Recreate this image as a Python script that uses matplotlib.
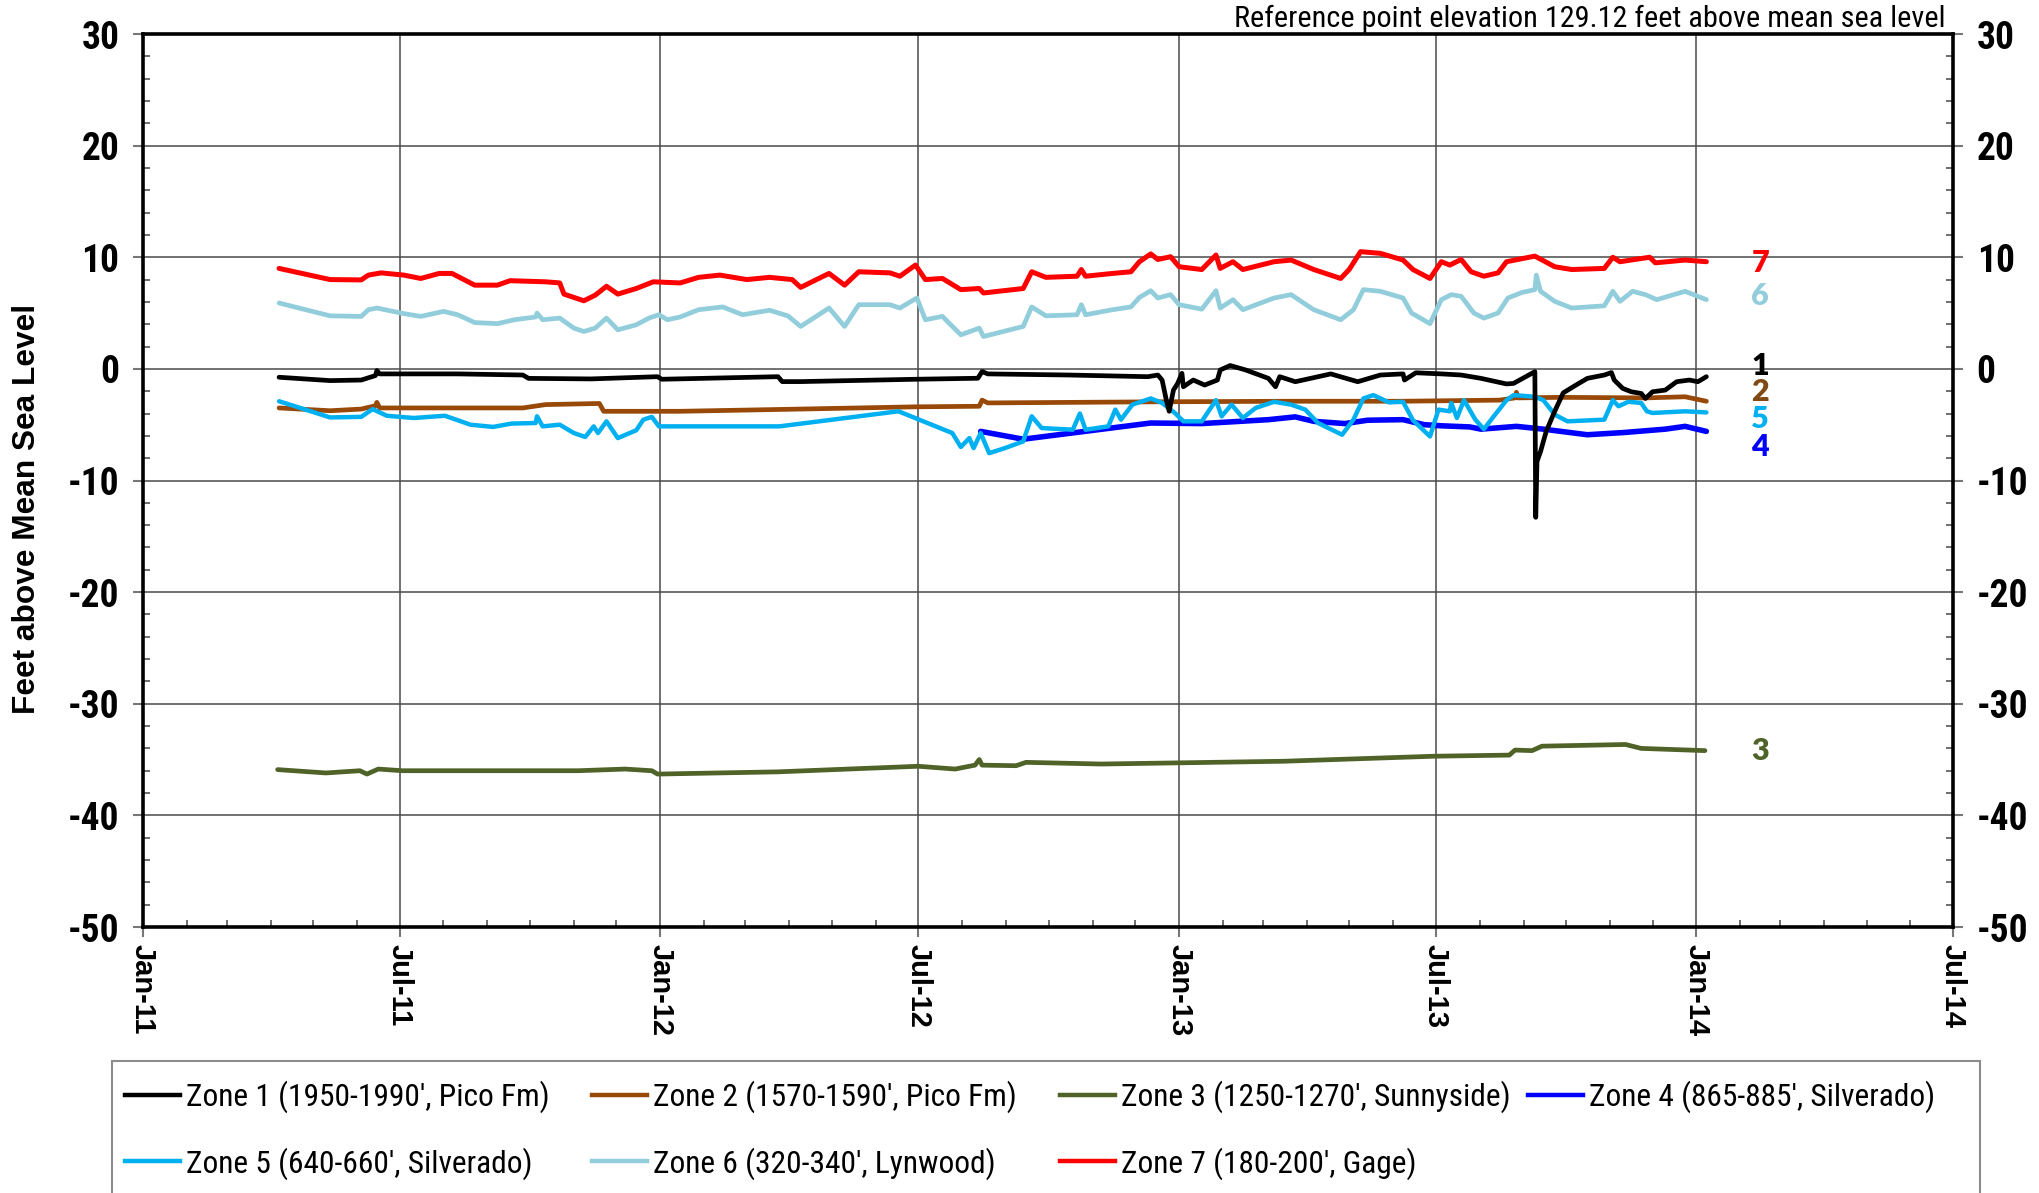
import numpy as np
import matplotlib
matplotlib.use("Agg")
import matplotlib.pyplot as plt
import matplotlib.dates as mdates
from matplotlib.font_manager import fontManager
from matplotlib.patches import Rectangle
from matplotlib.lines import Line2D

# ---------------------------------------------------------------------------
# Water levels, feet above mean sea level; x = days since 2011-01-01
# ---------------------------------------------------------------------------
ORIGIN = np.datetime64("2011-01-01")

zone1 = [(96, -0.75), (132, -1.05), (154, -1.0), (164, -0.6), (165, -0.15), (167, -0.45),
         (184, -0.45), (222, -0.45), (268, -0.55), (272, -0.85), (316, -0.9), (363, -0.7),
         (366, -0.93), (448, -0.7), (451, -1.14), (464, -1.14), (545, -0.93), (589, -0.84),
         (592, -0.24), (596, -0.45), (653, -0.55), (709, -0.7), (716, -0.55), (719, -1.0),
         (722, -2.8), (724, -3.8), (727, -1.9), (730, -1.3), (733, -0.4), (734, -1.6),
         (741, -1.0), (749, -1.45), (758, -1.0), (760, -0.1), (767, 0.3), (778, -0.1),
         (794, -0.85), (799, -1.6), (802, -0.7), (813, -1.15), (838, -0.45), (857, -1.15),
         (873, -0.55), (889, -0.45), (890, -1.0), (898, -0.35), (916, -0.45), (930, -0.55),
         (944, -0.85), (962, -1.35), (967, -1.3), (982, -0.25), (982.6, -13.3), (983.5, -8.3),
         (986, -7.4), (990, -5.6), (996, -3.8), (1002, -2.15), (1011, -1.45), (1019, -0.85),
         (1031, -0.55), (1036, -0.33), (1038, -1.0), (1044, -1.75), (1050, -2.05),
         (1057, -2.2), (1060, -2.65), (1065, -2.05), (1074, -1.9), (1082, -1.15),
         (1091, -1.0), (1097, -1.15), (1103, -0.7)]

zone2 = [(96, -3.5), (132, -3.75), (154, -3.6), (164, -3.3), (165, -3.0), (167, -3.5),
         (187, -3.5), (268, -3.5), (284, -3.2), (322, -3.1), (325, -3.8), (379, -3.8),
         (464, -3.6), (545, -3.4), (590, -3.35), (592, -2.8), (596, -3.05), (716, -2.95),
         (810, -2.9), (888, -2.9), (957, -2.8), (968, -2.6), (969, -2.1), (970, -2.6),
         (1000, -2.55), (1060, -2.6), (1088, -2.5), (1103, -2.9)]

zone3 = [(95, -35.9), (129, -36.2), (153, -36.0), (158, -36.3), (166, -35.85), (183, -36.0),
         (270, -36.0), (307, -36.0), (340, -35.85), (359, -36.0), (363, -36.3), (448, -36.1),
         (547, -35.6), (573, -35.85), (587, -35.5), (590, -35.0), (592, -35.5), (616, -35.55),
         (623, -35.25), (676, -35.4), (728, -35.3), (805, -35.15), (911, -34.7), (964, -34.6),
         (968, -34.15), (980, -34.2), (987, -33.8), (1046, -33.65), (1057, -34.0),
         (1102, -34.2)]

zone4 = [(591, -5.6), (621, -6.3), (711, -4.85), (747, -4.9), (794, -4.55), (813, -4.3),
         (826, -4.7), (848, -4.9), (864, -4.6), (889, -4.55), (904, -5.0), (916, -5.1),
         (936, -5.2), (944, -5.4), (969, -5.15), (988, -5.4), (1019, -5.9), (1045, -5.7),
         (1074, -5.4), (1088, -5.15), (1103, -5.6)]

zone5 = [(96, -2.9), (132, -4.35), (154, -4.3), (162, -3.6), (172, -4.2), (191, -4.4),
         (213, -4.2), (231, -5.0), (247, -5.2), (260, -4.9), (277, -4.85), (278, -4.25),
         (282, -5.15), (294, -5.0), (304, -5.75), (312, -6.1), (318, -5.15), (321, -5.75),
         (327, -4.7), (335, -6.2), (348, -5.5), (353, -4.55), (359, -4.3), (364, -5.15),
         (449, -5.15), (533, -3.8), (571, -5.75), (577, -7.0), (583, -6.2), (586, -7.1),
         (591, -5.75), (597, -7.55), (608, -7.1), (621, -6.5), (627, -4.25), (634, -5.3),
         (656, -5.45), (661, -4.0), (665, -5.45), (681, -5.15), (686, -3.65), (690, -4.55),
         (698, -3.2), (711, -2.65), (719, -3.05), (728, -3.95), (734, -4.7), (747, -4.7),
         (757, -2.8), (761, -4.25), (768, -3.2), (776, -4.4), (785, -3.5), (798, -2.95),
         (810, -3.2), (820, -3.65), (829, -4.85), (846, -5.9), (854, -4.55), (861, -2.65),
         (868, -2.35), (879, -3.0), (889, -2.95), (896, -4.6), (908, -6.05), (914, -3.65),
         (922, -3.8), (923, -3.05), (927, -4.4), (932, -2.8), (940, -4.55), (946, -5.4),
         (953, -4.25), (962, -2.8), (967, -2.35), (982, -2.5), (988, -2.8), (996, -4.1),
         (1005, -4.7), (1031, -4.55), (1037, -2.8), (1041, -3.35), (1048, -2.95),
         (1057, -3.05), (1061, -3.8), (1065, -3.95), (1088, -3.8), (1103, -3.9)]

zone6 = [(96, 5.9), (132, 4.75), (154, 4.7), (159, 5.3), (165, 5.45), (184, 4.95), (196, 4.7),
         (212, 5.15), (222, 4.85), (234, 4.15), (250, 4.05), (262, 4.4), (277, 4.65),
         (278, 5.0), (282, 4.4), (294, 4.55), (304, 3.65), (311, 3.35), (319, 3.65),
         (327, 4.55), (335, 3.5), (348, 3.95), (357, 4.55), (364, 4.85), (370, 4.4),
         (379, 4.65), (392, 5.3), (409, 5.55), (423, 4.85), (442, 5.25), (455, 4.75),
         (464, 3.8), (484, 5.45), (495, 3.8), (505, 5.75), (527, 5.75), (534, 5.45),
         (546, 6.35), (552, 4.4), (564, 4.7), (577, 3.05), (590, 3.65), (593, 2.9),
         (621, 3.8), (627, 5.55), (637, 4.75), (659, 4.85), (662, 5.75), (665, 4.85),
         (684, 5.3), (697, 5.55), (703, 6.4), (711, 7.0), (716, 6.35), (725, 6.65),
         (731, 5.75), (747, 5.35), (757, 7.0), (760, 5.45), (769, 6.2), (776, 5.3),
         (798, 6.35), (810, 6.65), (826, 5.3), (845, 4.4), (854, 5.3), (861, 7.1),
         (873, 6.95), (889, 6.35), (895, 5.0), (908, 4.05), (916, 6.2), (923, 6.65),
         (930, 6.5), (939, 5.0), (946, 4.55), (956, 5.0), (963, 6.35), (973, 6.85),
         (982, 7.1), (983, 8.4), (986, 6.95), (996, 6.05), (1008, 5.45), (1031, 5.65),
         (1037, 6.95), (1042, 6.05), (1051, 6.95), (1060, 6.65), (1068, 6.2), (1088, 6.95),
         (1103, 6.2)]

zone7 = [(96, 9.0), (132, 8.0), (154, 7.97), (159, 8.4), (168, 8.6), (184, 8.4), (196, 8.1),
         (209, 8.55), (218, 8.55), (234, 7.5), (250, 7.5), (259, 7.9), (284, 7.8), (294, 7.7),
         (297, 6.7), (311, 6.1), (319, 6.6), (327, 7.4), (335, 6.7), (348, 7.2), (360, 7.8),
         (379, 7.7), (392, 8.2), (407, 8.4), (426, 8.0), (442, 8.2), (458, 8.0), (464, 7.3),
         (484, 8.55), (495, 7.5), (505, 8.7), (527, 8.6), (534, 8.3), (545, 9.3), (552, 8.0),
         (564, 8.1), (577, 7.1), (590, 7.2), (593, 6.8), (621, 7.2), (627, 8.7), (637, 8.2),
         (659, 8.3), (662, 8.9), (665, 8.3), (684, 8.55), (697, 8.7), (703, 9.6), (711, 10.3),
         (716, 9.8), (725, 10.05), (731, 9.15), (747, 8.9), (757, 10.2), (760, 9.0),
         (769, 9.6), (776, 8.9), (798, 9.6), (810, 9.75), (826, 8.9), (845, 8.1), (851, 8.9),
         (859, 10.5), (873, 10.35), (889, 9.75), (896, 8.9), (908, 8.1), (916, 9.6),
         (922, 9.3), (930, 9.8), (937, 8.7), (946, 8.3), (956, 8.6), (962, 9.6), (982, 10.1),
         (996, 9.15), (1008, 8.9), (1031, 9.0), (1037, 10.0), (1042, 9.6), (1063, 10.0),
         (1067, 9.5), (1088, 9.75), (1103, 9.6)]

zone_labels = ["Zone 1 (1950-1990', Pico Fm)", "Zone 2 (1570-1590', Pico Fm)",
               "Zone 3 (1250-1270', Sunnyside)", "Zone 4 (865-885', Silverado)",
               "Zone 5 (640-660', Silverado)", "Zone 6 (320-340', Lynwood)",
               "Zone 7 (180-200', Gage)"]
zone_colors = ["#000000", "#984807", "#4F6228", "#0000FF", "#00B0F0", "#92CDDC", "#FF0000"]
end_tags = ["1", "2", "3", "4", "5", "6", "7"]
tag_colors = ["#000000", "#7F4A14", "#4F6228", "#0000FF", "#00B0F0", "#92CDDC", "#FF0000"]
tag_levels = [0.3, -2.1, -34.2, -7.0, -4.5, 6.5, 9.5]
tag_day = 1141

# ---------------------------------------------------------------------------
plt.rcParams["axes.unicode_minus"] = False
names = sorted({f.name for f in fontManager.ttflist})


def pick(cands, default):
    for c in cands:
        if c in names:
            return c
    return default


NARROW = pick(["Liberation Sans Narrow", "Arial Narrow", "Roboto Condensed",
               "Open Sans Condensed", "DejaVu Sans Condensed"], "Liberation Sans")
NARROW_IS_REAL = NARROW != "Liberation Sans"
ARIAL = "Liberation Sans"
CAL = pick(["Lato", "Open Sans"], "DejaVu Sans")


def to_xy(pairs):
    d = np.array([p[0] for p in pairs], dtype=float)
    v = np.array([p[1] for p in pairs], dtype=float)
    t = ORIGIN + np.round(d * 1440).astype("timedelta64[m]")
    return t, v


def day(d):
    return ORIGIN + np.timedelta64(int(round(d * 1440)), "m")


W, H = 2039, 1193
fig = plt.figure(figsize=(W / 100, H / 100), dpi=100)
ax = fig.add_axes([143 / W, 1 - 927 / H, (1953 - 143) / W, (927 - 34) / H])

series = [zone1, zone2, zone3, zone4, zone5, zone6, zone7]
zorders = [9, 4, 3, 5, 6, 7, 8]
widths = [3.4, 3.4, 3.4, 4.0, 3.2, 3.4, 3.6]
for s, c, lab, z, lw in zip(series, zone_colors, zone_labels, zorders, widths):
    t, v = to_xy(s)
    ax.plot(t, v, color=c, lw=lw, zorder=z, solid_joinstyle="round",
            solid_capstyle="round", label=lab)

for tag, c, lvl in zip(end_tags, tag_colors, tag_levels):
    ax.text(day(tag_day), lvl, tag, color=c, fontsize=22, fontweight="heavy",
            family=CAL, ha="center", va="center", zorder=10)

ax.set_xlim(np.datetime64("2011-01-01"), np.datetime64("2014-07-01"))
ax.set_ylim(-50, 30)
ax.set_yticks(np.arange(-50, 31, 10))
ax.yaxis.set_minor_locator(matplotlib.ticker.MultipleLocator(2))
ax.xaxis.set_major_locator(mdates.MonthLocator(bymonth=[1, 7]))
ax.xaxis.set_minor_locator(mdates.MonthLocator())
ax.xaxis.set_major_formatter(mdates.DateFormatter("%b-%y"))

ax.grid(which="major", color="#4a4a4a", lw=1.1, zorder=1)
ax.set_axisbelow(True)

for sp in ax.spines.values():
    sp.set_linewidth(2.6)
    sp.set_color("black")

ax.tick_params(axis="y", which="major", direction="out", length=7, width=1.5,
               color="#777777", left=True, right=True, labelleft=True, labelright=True,
               pad=10)
ax.tick_params(axis="y", which="minor", direction="in", length=5, width=1.2,
               color="#555555", left=True, right=True)
ax.tick_params(axis="x", which="major", direction="out", length=7, width=1.5,
               color="#777777", pad=5)
ax.tick_params(axis="x", which="minor", direction="in", length=5, width=1.2,
               color="#555555")

for lab in ax.get_yticklabels():
    lab.set_fontfamily(NARROW)
    lab.set_fontweight("bold")
    lab.set_fontsize(27 if NARROW_IS_REAL else 24)
for lab in ax.get_xticklabels():
    lab.set_fontfamily(ARIAL)
    lab.set_fontweight("bold")
    lab.set_fontsize(21)
    lab.set_rotation(-90)
    lab.set_va("top")
    lab.set_ha("center")

note_size = 21.8 if NARROW_IS_REAL else 19.2
fig.text(1946 / W, 1 - 27 / H, "Reference point elevation 129.12 feet above mean sea level",
         ha="right", va="baseline", fontsize=note_size, family=NARROW)
fig.text(27 / W, 1 - 509 / H, "Feet above Mean Sea Level", rotation=90, ha="center",
         va="center", fontsize=22.8, fontweight="bold", family=ARIAL)

# legend frame and four columns
fig.add_artist(Rectangle((112 / W, -0.05), (1980 - 112) / W, 0.05 + (1193 - 1061) / H,
                         transform=fig.transFigure, facecolor="white",
                         edgecolor="#8c8c8c", lw=1.5, zorder=0))
leg_size = 22.6 if NARROW_IS_REAL else 19.9
columns = [([0, 4], 125), ([1, 5], 592), ([2, 6], 1060), ([3], 1528)]
for idx, x0 in columns:
    yc = 1130 if len(idx) == 2 else 1097
    fig.legend([Line2D([], [], color=zone_colors[i], lw=3.2) for i in idx],
               [zone_labels[i] for i in idx], loc="center left",
               bbox_to_anchor=(x0 / W, 1 - yc / H), frameon=False,
               borderpad=0, borderaxespad=0, handlelength=1.75,
               handletextpad=0.2, labelspacing=1.08,
               prop={"family": NARROW, "size": leg_size})

fig.savefig("out.png", dpi=100)
